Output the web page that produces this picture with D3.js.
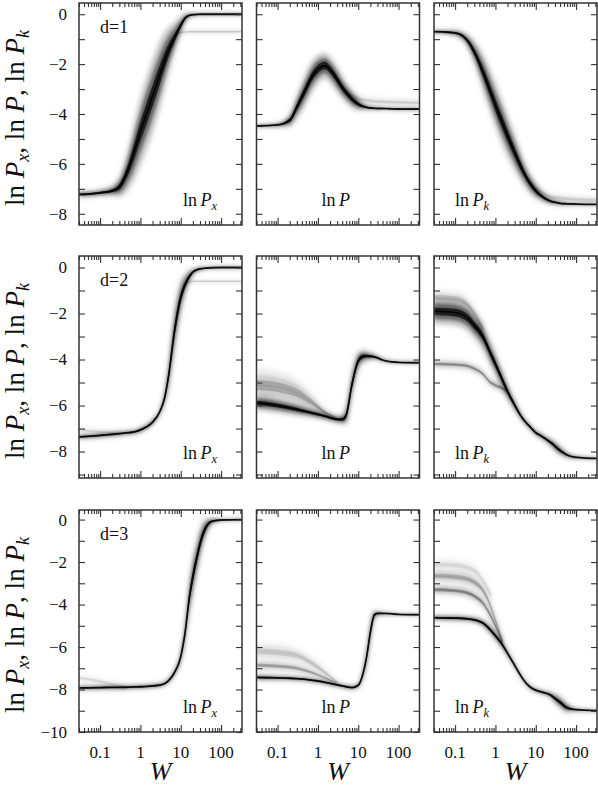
<!DOCTYPE html>
<html>
<head>
<meta charset="utf-8">
<script src="https://cdn.jsdelivr.net/npm/d3@7"></script>
<style>
body { margin: 0; background: #fff; }
svg { display: block; }
</style>
</head>
<body>
<script>
//W sample points the main curves are read at
var W = [0.03, 0.05, 0.1, 0.2, 0.3, 0.5, 0.7, 1, 1.5, 2, 3, 4, 5, 7, 10, 13, 16, 20, 25, 30, 40, 60, 100, 330];

//d=1 : centre of the dark band + its half width (ln units)
var lnPx1 = [-7.22, -7.21, -7.16, -7.08, -6.92, -6.2, -5.5, -4.7, -3.87, -3.28, -2.44, -1.85, -1.45, -0.95, -0.45, -0.15, -0.05, -0.02, -0.01, 0, 0, 0, 0, 0];
var sPx1 = [0.12, 0.12, 0.13, 0.2, 0.4, 0.8, 1.1, 1.3, 1.4, 1.4, 1.3, 1.1, 0.9, 0.6, 0.35, 0.18, 0.1, 0.07, 0.06, 0.05, 0.05, 0.05, 0.05, 0.05];
var lnP1 = [-4.48, -4.47, -4.44, -4.25, -3.72, -3.0, -2.52, -2.2, -2.06, -2.22, -2.62, -2.93, -3.14, -3.4, -3.6, -3.69, -3.73, -3.76, -3.77, -3.78, -3.78, -3.79, -3.8, -3.8];
var sP1 = [0.06, 0.06, 0.08, 0.25, 0.45, 0.6, 0.6, 0.55, 0.5, 0.5, 0.5, 0.45, 0.4, 0.35, 0.25, 0.15, 0.1, 0.08, 0.07, 0.06, 0.05, 0.05, 0.05, 0.05];
var lnPk1 = [-0.7, -0.71, -0.75, -1.05, -1.52, -2.35, -2.97, -3.64, -4.37, -4.87, -5.54, -6.0, -6.33, -6.75, -7.08, -7.25, -7.36, -7.45, -7.51, -7.54, -7.58, -7.6, -7.61, -7.62];
var sPk1 = [0.08, 0.08, 0.12, 0.25, 0.45, 0.7, 0.8, 0.85, 0.85, 0.8, 0.7, 0.6, 0.5, 0.4, 0.3, 0.22, 0.18, 0.15, 0.12, 0.1, 0.08, 0.06, 0.05, 0.05];

//d=2
var lnPx2 = [-7.36, -7.34, -7.3, -7.25, -7.22, -7.18, -7.15, -7.06, -6.9, -6.72, -6.28, -5.65, -4.7, -2.76, -1.3, -0.72, -0.42, -0.2, -0.1, -0.06, -0.03, -0.01, 0, 0];
var sPx2 = [0.1, 0.1, 0.1, 0.1, 0.1, 0.1, 0.1, 0.12, 0.12, 0.13, 0.15, 0.3, 0.6, 0.9, 0.7, 0.45, 0.3, 0.15, 0.1, 0.08, 0.06, 0.05, 0.05, 0.05];
var lnP2 = [-5.88, -5.92, -6.0, -6.1, -6.17, -6.26, -6.32, -6.38, -6.46, -6.53, -6.6, -6.6, -6.42, -5.07, -4.06, -3.87, -3.85, -3.86, -3.88, -3.93, -4.02, -4.09, -4.12, -4.14];
var sP2 = [0.32, 0.32, 0.3, 0.28, 0.26, 0.22, 0.2, 0.19, 0.17, 0.16, 0.16, 0.22, 0.4, 0.55, 0.4, 0.28, 0.22, 0.16, 0.12, 0.1, 0.08, 0.06, 0.05, 0.05];
var lnPk2 = [-1.9, -1.92, -1.96, -2.18, -2.52, -3.03, -3.6, -4.2, -4.9, -5.39, -5.98, -6.37, -6.62, -6.9, -7.18, -7.3, -7.4, -7.52, -7.64, -7.77, -7.95, -8.15, -8.25, -8.3];
var sPk2 = [0.55, 0.55, 0.55, 0.55, 0.55, 0.55, 0.52, 0.48, 0.42, 0.35, 0.25, 0.18, 0.14, 0.13, 0.13, 0.13, 0.13, 0.15, 0.18, 0.22, 0.2, 0.12, 0.07, 0.05];

//d=3
var lnPx3 = [-7.92, -7.92, -7.91, -7.9, -7.9, -7.89, -7.88, -7.87, -7.85, -7.83, -7.79, -7.72, -7.58, -7.2, -6.45, -5.23, -3.8, -2.68, -1.8, -1.15, -0.45, -0.08, -0.02, 0];
var sPx3 = [0.1, 0.1, 0.1, 0.1, 0.1, 0.1, 0.1, 0.1, 0.1, 0.1, 0.1, 0.1, 0.12, 0.15, 0.3, 0.55, 0.8, 0.9, 0.8, 0.7, 0.45, 0.15, 0.06, 0.05];
var lnP3 = [-7.43, -7.44, -7.45, -7.47, -7.49, -7.52, -7.56, -7.6, -7.66, -7.71, -7.78, -7.83, -7.87, -7.91, -7.8, -7.28, -6.5, -5.3, -4.5, -4.42, -4.42, -4.43, -4.46, -4.48];
var sP3 = [0.12, 0.12, 0.11, 0.1, 0.1, 0.1, 0.1, 0.1, 0.1, 0.1, 0.1, 0.1, 0.1, 0.1, 0.12, 0.25, 0.45, 0.5, 0.22, 0.12, 0.08, 0.06, 0.05, 0.05];
var lnPk3 = [-4.62, -4.63, -4.64, -4.67, -4.72, -4.88, -5.13, -5.47, -5.9, -6.3, -6.86, -7.27, -7.55, -7.86, -8.03, -8.1, -8.15, -8.2, -8.3, -8.42, -8.6, -8.86, -8.95, -9.0];
var sPk3 = [0.12, 0.12, 0.12, 0.12, 0.13, 0.16, 0.2, 0.22, 0.2, 0.17, 0.13, 0.11, 0.1, 0.1, 0.1, 0.1, 0.1, 0.12, 0.16, 0.22, 0.28, 0.22, 0.08, 0.05];

//fainter side streaks (fewer runs go that way)
var brW1 = [7, 10, 20, 60, 330], brPx1 = [-0.95, -0.72, -0.7, -0.7, -0.7];
var brW2 = [4, 7, 10, 30, 330], brP1 = [-2.95, -3.25, -3.38, -3.5, -3.55];
var brW3 = [7, 13, 30, 330], brPk1 = [-6.7, -7.1, -7.35, -7.45];
var brW4 = [13, 20, 40, 330], brPx2 = [-0.72, -0.6, -0.6, -0.6];
var brW5 = [0.03, 0.1, 0.3], brPx2b = [-7.05, -7.15, -7.22];
var brW6 = [0.03, 0.1, 0.3, 0.7, 1.5, 3], brP2 = [-5.1, -5.2, -5.45, -5.85, -6.3, -6.55];
var brSP2 = [0.75, 0.7, 0.6, 0.4, 0.2, 0.1];
var brW7 = [0.03, 0.1, 0.2, 0.3, 0.5, 0.7, 1, 1.5, 2], brPk2 = [-4.19, -4.22, -4.28, -4.4, -4.65, -4.95, -5.12, -5.25, -5.42];
var brW8 = [0.03, 0.1, 0.2, 0.3, 0.5], brPk2b = [-1.3, -1.35, -1.6, -2.0, -2.7];
var brW9 = [0.03, 0.1, 0.2, 0.4], brPx3 = [-7.45, -7.62, -7.76, -7.86];
var brW10 = [0.03, 0.1, 0.3, 0.7, 1.5, 3];
var brP3a = [-6.2, -6.25, -6.4, -6.75, -7.2, -7.65], brSP3a = [0.45, 0.45, 0.4, 0.35, 0.25, 0.1];
var brP3b = [-6.85, -6.9, -7.0, -7.2, -7.45, -7.72], brSP3b = [0.25, 0.25, 0.22, 0.18, 0.12, 0.08];
var brW11 = [0.03, 0.1, 0.2, 0.3, 0.5, 0.7, 1, 1.5];
var brPk3a = [-2.65, -2.7, -2.8, -2.95, -3.35, -3.9, -4.75, -5.75];
var brPk3b = [-3.3, -3.35, -3.45, -3.6, -3.95, -4.4, -5.0, -5.8];
var brW12 = [0.03, 0.1, 0.3, 0.5, 0.8], brPk3c = [-2.1, -2.15, -2.4, -2.9, -3.6];

//axes
var xDomain = [0.03, 330];
var xMajor = [0.1, 1, 10, 100];
var xLabels = ["0.1", "1", "10", "100"];
var yDomains = [[-8.45, 0.45], [-9.15, 0.5], [-10, 0.45]];
var yLabels = [[0, -2, -4, -6, -8], [0, -2, -4, -6, -8], [0, -2, -4, -6, -8, -10]];
var dLabels = ["d=1", "d=2", "d=3"];
var curveNames = [["P", "x"], ["P", ""], ["P", "k"]];

var w = 598, h = 787;
var colX = [79, 256.5, 434], colW = 163;
var rowY = [3, 256, 510], rowH = 222;
var nameDx = [104, 65, 21]; //where the ln P.. tag sits in each column

//pick the first serif face that is really installed (canvas width test)
function pickSerif(){
    var cands = ["Liberation Serif", "DejaVu Serif", "Tinos", "Times New Roman", "Noto Serif", "FreeSerif"];
    var ctx = document.createElement("canvas").getContext("2d");
    var probe = "mmmWWWiiil1234567890 lnPxk";
    ctx.font = "40px monospace";
    var base = ctx.measureText(probe).width;
    for (var i = 0; i < cands.length; i++){
        ctx.font = "40px '" + cands[i] + "', monospace";
        if (Math.abs(ctx.measureText(probe).width - base) > 0.5) return "'" + cands[i] + "', serif";
    }
    return "serif";
}

window.onload = function(){
    var serif = pickSerif();
    var svg = d3.select("body").append("svg")
        .attr("width", w)
        .attr("height", h)
        .style("font-family", serif);

    //blur filters so the bands look like a density of many runs
    var defs = svg.append("defs");
    [["blurA", 2.6], ["blurB", 1.5], ["blurC", 0.6]].forEach(function(f){
        defs.append("filter")
            .attr("id", f[0])
            .attr("filterUnits", "userSpaceOnUse")
            .attr("x", 0).attr("y", 0).attr("width", w).attr("height", h)
            .append("feGaussianBlur")
            .attr("stdDeviation", f[1]);
    });

    var mains = [
        [[lnPx1, sPx1], [lnP1, sP1], [lnPk1, sPk1]],
        [[lnPx2, sPx2], [lnP2, sP2], [lnPk2, sPk2]],
        [[lnPx3, sPx3], [lnP3, sP3], [lnPk3, sPk3]]
    ];
    //side streaks per panel: [W, values, spread, strength]
    var streaks = [
        [[[brW1, brPx1, 0.1, 0.16]], [[brW2, brP1, 0.2, 0.12]], [[brW3, brPk1, 0.2, 0.12]]],
        [[[brW4, brPx2, 0.1, 0.14], [brW5, brPx2b, 0.18, 0.1]], [[brW6, brP2, brSP2, 0.28]], [[brW7, brPk2, 0.2, 0.35], [brW8, brPk2b, 0.35, 0.18]]],
        [[[brW9, brPx3, 0.22, 0.1]], [[brW10, brP3a, brSP3a, 0.16], [brW10, brP3b, brSP3b, 0.28]], [[brW12, brPk3c, 0.35, 0.1], [brW11, brPk3a, 0.35, 0.26], [brW11, brPk3b, 0.25, 0.38]]]
    ];

    var x = d3.scaleLog().domain(xDomain).range([0, colW]);
    var xMinor = [];
    [0.01, 0.1, 1, 10, 100].forEach(function(dec){
        for (var k = 2; k <= 9; k++){
            var v = dec * k;
            if (v >= xDomain[0] && v <= xDomain[1]) xMinor.push(v);
        }
    });

    function band(g, y, ws, vals, spread, alpha, main){
        var pts = ws.map(function(wv, i){
            return { w: wv, v: vals[i], s: Array.isArray(spread) ? spread[i] : spread };
        });
        //outer haze -> inner core
        [[1.0, 0.28, "blurA"], [0.6, 0.45, "blurB"], [0.3, 0.7, "blurC"]].forEach(function(L){
            var area = d3.area().curve(d3.curveMonotoneX)
                .x(function(d){ return x(d.w); })
                .y0(function(d){ return y(d.v - d.s * L[0]); })
                .y1(function(d){ return y(d.v + d.s * L[0]); });
            g.append("path")
                .datum(pts)
                .attr("d", area)
                .attr("fill", "#000")
                .attr("fill-opacity", alpha * L[1])
                .attr("filter", "url(#" + L[2] + ")");
        });
        var line = d3.line().curve(d3.curveMonotoneX)
            .x(function(d){ return x(d.w); })
            .y(function(d){ return y(d.v); });
        g.append("path")
            .datum(pts)
            .attr("d", line)
            .attr("fill", "none")
            .attr("stroke", "#000")
            .attr("stroke-width", main ? 1.8 : 1.2)
            .attr("stroke-opacity", main ? 0.85 : alpha * 0.3)
            .attr("filter", "url(#blurC)");
    }

    function ticks(g, axis, tx, ty){
        g.append("g")
            .attr("transform", "translate(" + tx + "," + ty + ")")
            .call(axis)
            .call(function(s){ s.select(".domain").remove(); })
            .call(function(s){ s.selectAll("line").attr("stroke", "#333").attr("stroke-width", 1.1); });
    }

    for (var r = 0; r < 3; r++){
        var y = d3.scaleLinear().domain(yDomains[r]).range([rowH, 0]);
        var yAll = d3.range(Math.ceil(yDomains[r][0]), Math.floor(yDomains[r][1]) + 1);
        for (var c = 0; c < 3; c++){
            var g = svg.append("g")
                .attr("transform", "translate(" + colX[c] + "," + rowY[r] + ")");
            var cid = "clip" + r + c;
            defs.append("clipPath").attr("id", cid)
                .append("rect").attr("width", colW).attr("height", rowH);
            var plot = g.append("g").attr("clip-path", "url(#" + cid + ")");

            streaks[r][c].forEach(function(b){
                band(plot, y, b[0], b[1], b[2], b[3], false);
            });
            band(plot, y, W, mains[r][c][0], mains[r][c][1], 1, true);

            //inward ticks on all four sides
            ticks(g, d3.axisBottom(x).tickValues(xMinor).tickSize(-4).tickFormat(""), 0, rowH);
            ticks(g, d3.axisBottom(x).tickValues(xMajor).tickSize(-7).tickFormat(""), 0, rowH);
            ticks(g, d3.axisTop(x).tickValues(xMinor).tickSize(-4).tickFormat(""), 0, 0);
            ticks(g, d3.axisTop(x).tickValues(xMajor).tickSize(-7).tickFormat(""), 0, 0);
            ticks(g, d3.axisLeft(y).tickValues(yAll).tickSize(-6).tickFormat(""), 0, 0);
            ticks(g, d3.axisRight(y).tickValues(yAll).tickSize(-6).tickFormat(""), colW, 0);

            g.append("rect")
                .attr("width", colW)
                .attr("height", rowH)
                .attr("fill", "none")
                .attr("stroke", "#333")
                .attr("stroke-width", 1.5);

            //ln P_x / ln P / ln P_k tag
            var tag = g.append("text")
                .attr("x", nameDx[c])
                .attr("y", 203)
                .attr("fill", "#111")
                .style("font-size", "18px");
            tag.append("tspan").text("ln\u2009");
            tag.append("tspan").style("font-style", "italic").text(curveNames[c][0]);
            if (curveNames[c][1]){
                tag.append("tspan").style("font-style", "italic").style("font-size", "12.5px")
                    .attr("dy", 3.5).text(curveNames[c][1]);
            }

            if (c == 0){
                g.append("text")
                    .attr("x", 21)
                    .attr("y", 30)
                    .attr("fill", "#111")
                    .style("font-size", "18px")
                    .text(dLabels[r]);
                //tick numbers on the left column only
                g.selectAll(".ylab")
                    .data(yLabels[r])
                    .enter()
                    .append("text")
                    .attr("class", "ylab")
                    .attr("x", -12)
                    .attr("y", function(d){ return y(d); })
                    .attr("dy", "0.35em")
                    .attr("text-anchor", "end")
                    .attr("fill", "#111")
                    .style("font-size", "17px")
                    .text(d3.format(""));
            }
            if (r == 2){
                g.selectAll(".xlab")
                    .data(xMajor)
                    .enter()
                    .append("text")
                    .attr("class", "xlab")
                    .attr("x", function(d){ return x(d); })
                    .attr("y", rowH + 26)
                    .attr("text-anchor", "middle")
                    .attr("fill", "#111")
                    .style("font-size", "17px")
                    .text(function(d, i){ return xLabels[i]; });
                g.append("text")
                    .attr("x", colW / 2)
                    .attr("y", rowH + 48)
                    .attr("text-anchor", "middle")
                    .attr("fill", "#111")
                    .style("font-size", "26px")
                    .style("font-style", "italic")
                    .text("W");
            }
        }

        //row title, rotated
        var yt = svg.append("text")
            .attr("transform", "translate(24," + (rowY[r] + rowH / 2 + 4) + ") rotate(-90)")
            .attr("text-anchor", "middle")
            .attr("fill", "#111")
            .style("font-size", "27px");
        yt.append("tspan").text("ln ");
        yt.append("tspan").style("font-style", "italic").text("P");
        yt.append("tspan").style("font-style", "italic").style("font-size", "18px").attr("dy", 5).text("x");
        yt.append("tspan").attr("dy", -5).text(", ln ");
        yt.append("tspan").style("font-style", "italic").text("P");
        yt.append("tspan").text(", ln ");
        yt.append("tspan").style("font-style", "italic").text("P");
        yt.append("tspan").style("font-style", "italic").style("font-size", "18px").attr("dy", 5).text("k");
    }
};
</script>
</body>
</html>
